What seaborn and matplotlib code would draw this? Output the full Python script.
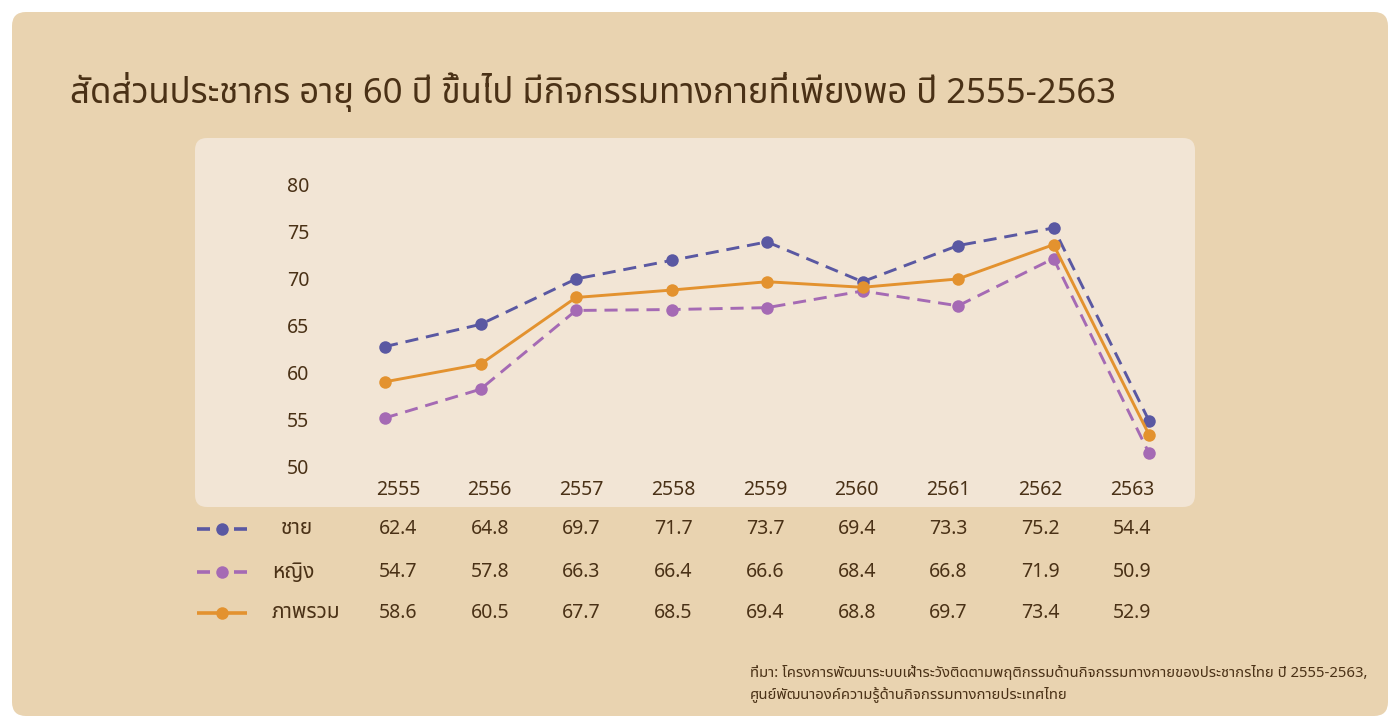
import matplotlib
matplotlib.use("Agg")
import matplotlib.pyplot as plt
import matplotlib.transforms as mtransforms
from matplotlib.patches import FancyBboxPatch
from matplotlib.lines import Line2D
import seaborn as sns
import pandas as pd

years = ["2555", "2556", "2557", "2558", "2559", "2560", "2561", "2562", "2563"]
male = [62.4, 64.8, 69.7, 71.7, 73.7, 69.4, 73.3, 75.2, 54.4]
female = [54.7, 57.8, 66.3, 66.4, 66.6, 68.4, 66.8, 71.9, 50.9]
total = [58.6, 60.5, 67.7, 68.5, 69.4, 68.8, 69.7, 73.4, 52.9]
series_names = ["ชาย", "หญิง", "ภาพรวม"]
y_ticks = [50, 55, 60, 65, 70, 75, 80]

title = "สัดส่วนประชากร อายุ 60 ปี ขึ้นไป มีกิจกรรมทางกายที่เพียงพอ ปี 2555-2563"
source = ("ที่มา: โครงการพัฒนาระบบเฝ้าระวังติดตามพฤติกรรมด้านกิจกรรมทางกายของประชากรไทย ปี 2555-2563,\n"
          "ศูนย์พัฒนาองค์ความรู้ด้านกิจกรรมทางกายประเทศไทย")

colors = ["#5a58a2", "#a56ab4", "#e3922f"]
dashed = [True, True, False]
text_col = "#4a3116"

sns.set_theme(style="white")
plt.rcParams["font.family"] = ["Noto Sans Thai", "Kanit", "DejaVu Sans"]

W, H = 1400, 728
fig = plt.figure(figsize=(W / 100, H / 100), dpi=100)
fig.patch.set_facecolor("white")

def px_box(x0, y0, x1, y1, color, r):
    # box from pixel coords (top-left origin) into figure coords
    p = FancyBboxPatch((x0 / W, 1 - y1 / H), (x1 - x0) / W, (y1 - y0) / H,
                       boxstyle=f"round,pad=0,rounding_size={r / W}",
                       transform=fig.transFigure, facecolor=color, edgecolor="none",
                       mutation_aspect=W / H, zorder=-2)
    fig.patches.append(p)

px_box(12, 12, 1388, 716, "#e9d3b0", 14)
px_box(195, 138, 1195, 507, "#f2e5d5", 12)

# both axes share one pixel rect; lines and labels use slightly different scales
L, R, T, B = 343, 1187, 160, 480
rect = [L / W, 1 - B / H, (R - L) / W, (B - T) / H]

def limits(x0px, x8px, y50px, y80px):
    ux = (x8px - x0px) / 8
    uy = (y50px - y80px) / 30
    return ((L - x0px) / ux, (R - x0px) / ux), (50 - (B - y50px) / uy, 50 + (y50px - T) / uy)

ax_lab = fig.add_axes(rect)
ax = fig.add_axes(rect)
for a in (ax, ax_lab):
    a.set_facecolor("none")
    sns.despine(ax=a, left=True, bottom=True)
    a.grid(False)

# lines
(xl, xh), (yl, yh) = limits(385, 1149, 461.5, 183.5)
df = pd.DataFrame({"x": list(range(len(years))) * 3,
                   "value": male + female + total,
                   "series": [s for s in series_names for _ in years]})
for name, col, d in zip(series_names, colors, dashed):
    sub = df[df["series"] == name]
    sns.lineplot(data=sub, x="x", y="value", ax=ax, color=col, linewidth=2.1,
                 marker="o", markersize=9, markeredgewidth=0, legend=False,
                 dashes=False, zorder=3)
    if d:
        ax.lines[-1].set_dashes((4.5, 2.7))
ax.set_xlim(xl, xh)
ax.set_ylim(yl, yh)
ax.set_xticks([])
ax.set_yticks([])
ax.set_xlabel("")
ax.set_ylabel("")

# tick labels
(xl, xh), (yl, yh) = limits(398, 1132, 466, 185)
ax_lab.set_xlim(xl, xh)
ax_lab.set_ylim(yl, yh)
ax_lab.set_xticks(range(len(years)))
ax_lab.set_xticklabels(years)
ax_lab.set_yticks(y_ticks)
ax_lab.tick_params(axis="both", length=0, labelsize=14, colors=text_col)
ax_lab.tick_params(axis="x", pad=(487 - 8 - B) * 0.72 if 487 - 8 > B else 0)
ax_lab.tick_params(axis="y", pad=(L - 287) * 0.72)
for lab in ax_lab.get_yticklabels():
    lab.set_horizontalalignment("left")

# table under the chart
blend = mtransforms.blended_transform_factory(ax_lab.transData, fig.transFigure)
row_y = [529, 572, 613]
for vals, name, col, d, ry in zip([male, female, total], series_names, colors, dashed, row_y):
    yf = 1 - ry / H
    for i, v in enumerate(vals):
        ax_lab.text(i, yf, f"{v:.1f}", transform=blend, ha="center", va="center",
                    fontsize=14, color=text_col)
    segs = [(197, 210), (234, 247)] if d else [(197, 247)]
    for a, b in segs:
        fig.lines.append(Line2D([a / W, b / W], [yf, yf], transform=fig.transFigure,
                                color=col, linewidth=2.6, solid_capstyle="butt"))
    fig.lines.append(Line2D([222 / W], [yf], transform=fig.transFigure, color=col,
                            marker="o", markersize=9, markeredgewidth=0, linestyle="none"))
    fig.text(272 / W if name != "ชาย" else 281 / W, yf, name, ha="left", va="center",
             fontsize=15, color=text_col)

fig.text(70 / W, 1 - 92 / H, title, ha="left", va="center", fontsize=25, color=text_col)
fig.text(750 / W, 1 - 684 / H, source, ha="left", va="center", fontsize=10.7,
         color=text_col, linespacing=1.4)

fig.savefig("out.png", dpi=100, facecolor=fig.get_facecolor())
